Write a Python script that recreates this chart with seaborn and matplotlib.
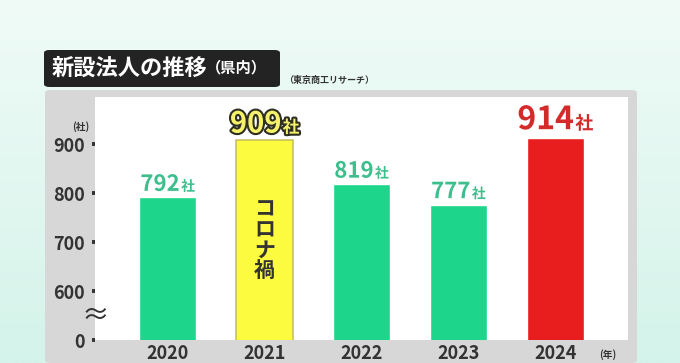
import matplotlib
matplotlib.use('Agg')
import matplotlib.pyplot as plt
import matplotlib.patheffects as pe
from matplotlib.colors import LinearSegmentedColormap
from matplotlib.patches import FancyBboxPatch
from matplotlib.offsetbox import TextArea, HPacker, AnnotationBbox
import numpy as np
import pandas as pd
import seaborn as sns

years = ['2020', '2021', '2022', '2023', '2024']
counts = [792, 909, 819, 777, 914]
y_ticks = [500, 600, 700, 800, 900]
y_tick_labels = ['0', '600', '700', '800', '900']
title_main = '新設法人の推移'
title_sub = '（県内）'
source = '（東京商工リサーチ）'
covid_note = 'コロナ禍'

bar_colors = ['#1dd68b', '#fcfb3f', '#1dd68b', '#1dd68b', '#e81e1e']
# number size, unit size, fill, outline
label_styles = [
    (16, 10, '#3cbf8c', 'white'),
    (21, 12, '#f5f26a', '#2e2e22'),
    (16, 10, '#3cbf8c', 'white'),
    (16, 10, '#3cbf8c', 'white'),
    (23, 13, '#d42a2a', 'white'),
]

sns.set_theme(style='white')
plt.rcParams['font.family'] = ['Noto Sans CJK JP', 'DejaVu Sans']

W, H = 680, 363
fig = plt.figure(figsize=(W / 100, H / 100), dpi=100)

# mint background
bg = fig.add_axes([0, 0, 1, 1], zorder=-10)
cmap = LinearSegmentedColormap.from_list('mint', ['#f0fbf7', '#d4f3ea'])
bg.imshow(np.linspace(0, 1, 256).reshape(-1, 1), aspect='auto', cmap=cmap, extent=[0, 1, 0, 1])
bg.axis('off')

# grey panel behind the chart
fig.patches.append(FancyBboxPatch((45 / W, 0), (637 - 45) / W, (363 - 90) / H,
                                  boxstyle='round,pad=0,rounding_size=0.008',
                                  transform=fig.transFigure, facecolor='#d7d7d7',
                                  edgecolor='none', zorder=-5))
# title box
fig.patches.append(FancyBboxPatch((44 / W, (H - 87) / H), 236 / W, 37 / H,
                                  boxstyle='round,pad=0,rounding_size=0.008',
                                  transform=fig.transFigure, facecolor='#232323',
                                  edgecolor='none', zorder=-4))
fig.text(52 / W, (H - 68) / H, title_main, color='white', fontsize=16,
         fontweight='bold', va='center')
fig.text(206 / W, (H - 67) / H, title_sub, color='white', fontsize=11,
         fontweight='bold', va='center')
fig.text(284 / W, (H - 80) / H, source, color='#333333', fontsize=6.5,
         fontweight='bold', va='center')

ax = fig.add_axes([95 / W, (H - 340) / H, (628 - 95) / W, (340 - 97) / H])
ax.set_facecolor('white')

df = pd.DataFrame({'year': years, 'count': counts})
sns.barplot(data=df, x='year', y='count', hue='year', palette=bar_colors,
            width=0.59, saturation=1, legend=False, ax=ax)
ax.patches[1].set_edgecolor('#c8c25a')
ax.patches[1].set_linewidth(1.2)

ax.set_xlim(-0.75, 4.75)
ax.set_ylim(500, 997)
ax.set_yticks(y_ticks)
ax.set_yticklabels(y_tick_labels)
ax.set_xlabel('')
ax.set_ylabel('')
for s in ax.spines.values():
    s.set_visible(False)
ax.tick_params(axis='x', length=0, pad=3, labelsize=13, labelcolor='#333333')
ax.tick_params(axis='y', length=2.5, width=2.8, color='#333333', pad=5,
               labelsize=13, labelcolor='#333333', direction='out', left=True)
for lab in ax.get_xticklabels() + ax.get_yticklabels():
    lab.set_fontweight('bold')

# value labels
for i, (v, st) in enumerate(zip(counts, label_styles)):
    nsize, usize, fill, edge = st
    stroke = [pe.withStroke(linewidth=3, foreground=edge)]
    num = TextArea(str(v), textprops=dict(fontsize=nsize, color=fill, fontweight='bold',
                                          path_effects=stroke))
    unit = TextArea('社', textprops=dict(fontsize=usize, color=fill, fontweight='bold',
                                        path_effects=stroke))
    box = HPacker(children=[num, unit], align='baseline', pad=0, sep=1)
    ab = AnnotationBbox(box, (i, v), xybox=(0, 1), xycoords='data',
                        boxcoords='offset points', box_alignment=(0.5, 0),
                        frameon=False, annotation_clip=False)
    ax.add_artist(ab)

ax.text(1, 705, '\n'.join(covid_note), ha='center', va='center', fontsize=15,
        color='#333333', fontweight='bold', linespacing=0.95)

# axis break and units
ax.text(0, 550, '≈', transform=ax.get_yaxis_transform(), ha='center', va='center',
        fontsize=20, color='#333333', clip_on=False)
ax.text(-0.01, 936, '(社)', transform=ax.get_yaxis_transform(), ha='right', va='center',
        fontsize=7, color='#333333', fontweight='bold')
ax.text(0.945, -0.06, '(年)', transform=ax.transAxes, ha='left', va='center',
        fontsize=7, color='#333333', fontweight='bold')

fig.savefig('out.png', dpi=100)
